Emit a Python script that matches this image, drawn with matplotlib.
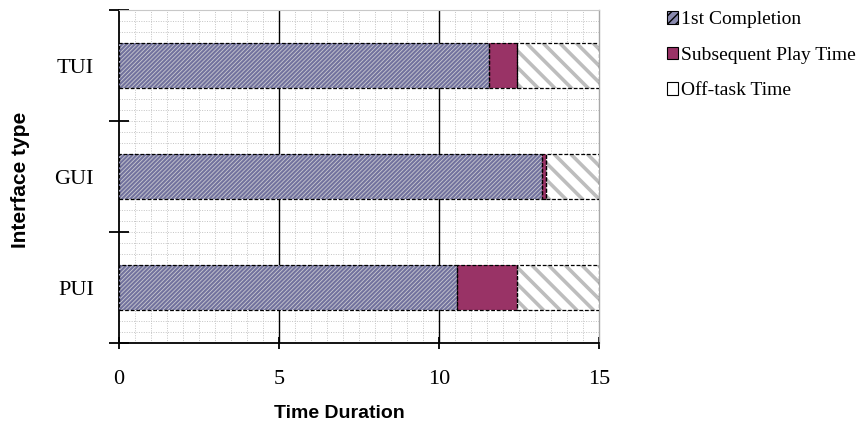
import matplotlib
matplotlib.use("Agg")
import matplotlib.pyplot as plt
import matplotlib.patches as mpatches
import numpy as np

interfaces = ["PUI", "GUI", "TUI"]
first_completion = [10.56, 13.22, 11.56]
subsequent_play = [1.88, 0.12, 0.88]
off_task = [2.56, 1.66, 2.56]

series_labels = ["1st Completion", "Subsequent Play Time", "Off-task Time"]

serif = "Liberation Serif"
sans = "Liberation Sans"


def stacked(ax, y, left, width, face, hatch, hatch_color, hatch_lw):
	# fill + hatch first, then a dashed black outline on top
	with plt.rc_context({"hatch.linewidth": hatch_lw}):
		bars = ax.barh(y, width, left=left, height=0.4, color=face,
			edgecolor=hatch_color, hatch=hatch, linewidth=0, zorder=3)
	for b in bars:
		if hasattr(b, "set_hatch_linewidth"):
			b.set_hatch_linewidth(hatch_lw)
	ax.barh(y, width, left=left, height=0.4, fill=False, edgecolor="black",
		linestyle=(0, (3, 1.5)), linewidth=0.9, zorder=4)


def main():
	fig = plt.figure(figsize=(8.66, 4.28), dpi=100)
	ax = fig.add_axes([0.1374, 0.1986, 0.5543, 0.7780])

	y = np.arange(len(interfaces))
	fc = np.array(first_completion)
	sp = np.array(subsequent_play)
	ot = np.array(off_task)

	stacked(ax, y, 0, fc, "#c8c8cf", "////////", "#72729e", 1.5)
	stacked(ax, y, fc, sp, "#993366", None, "#993366", 1.0)
	stacked(ax, y, fc + sp, ot, "white", "\\\\", "#bdbdbd", 2.6)

	ax.set_xlim(0, 15)
	ax.set_ylim(-0.5, 2.5)

	# dotted background grid
	for gx in np.arange(0.5, 15, 0.5):
		if gx % 5 != 0:
			ax.axvline(gx, color="#c4c4c4", linestyle=(0, (1, 1.5)), linewidth=0.7, zorder=1)
	for gy in np.arange(-0.5, 2.5, 0.1):
		ax.axhline(gy, color="#c4c4c4", linestyle=(0, (1, 1.5)), linewidth=0.7, zorder=1)
	for gx in [5, 10]:
		ax.axvline(gx, color="black", linewidth=1.0, zorder=2)

	ax.set_xticks([0, 5, 10, 15])
	ax.set_xticklabels(["0", "5", "10", "15"], fontfamily=serif, fontsize=16)
	ax.tick_params(axis="x", direction="inout", length=9, width=1.3, pad=15)

	ax.set_yticks([-0.5, 0.5, 1.5, 2.5])
	ax.set_yticklabels([])
	ax.tick_params(axis="y", direction="inout", length=14, width=1.3)
	ax.set_yticks(y, minor=True)
	ax.set_yticklabels(interfaces, minor=True, fontfamily=serif, fontsize=16)
	ax.tick_params(axis="y", which="minor", length=0, pad=18)

	ax.spines["left"].set_linewidth(1.3)
	ax.spines["bottom"].set_linewidth(1.3)
	ax.spines["top"].set_color("#c8c8c8")
	ax.spines["right"].set_color("#a8a8a8")
	ax.spines["top"].set_linewidth(0.8)
	ax.spines["right"].set_linewidth(1.0)

	ax.set_xlabel("Time Duration", fontfamily=sans, fontweight="bold", fontsize=14)
	ax.xaxis.set_label_coords(0.46, -0.185)
	ax.set_ylabel("Interface type", fontfamily=sans, fontweight="bold", fontsize=15)
	ax.yaxis.set_label_coords(-0.185, 0.49)

	handles = [
		mpatches.Patch(facecolor="#8a8aae", edgecolor="black", hatch="////", linewidth=0.8),
		mpatches.Patch(facecolor="#993366", edgecolor="black", linewidth=0.8),
		mpatches.Patch(facecolor="white", edgecolor="black", linewidth=0.8),
	]
	fig.legend(handles, series_labels, loc="upper left", bbox_to_anchor=(0.752, 1.01),
		frameon=False, prop={"family": serif, "size": 14}, handlelength=0.6,
		handleheight=0.6, handletextpad=0.15, labelspacing=0.95, borderpad=0.3)

	fig.savefig("out.png", dpi=100)


if __name__ == "__main__":
	main()
